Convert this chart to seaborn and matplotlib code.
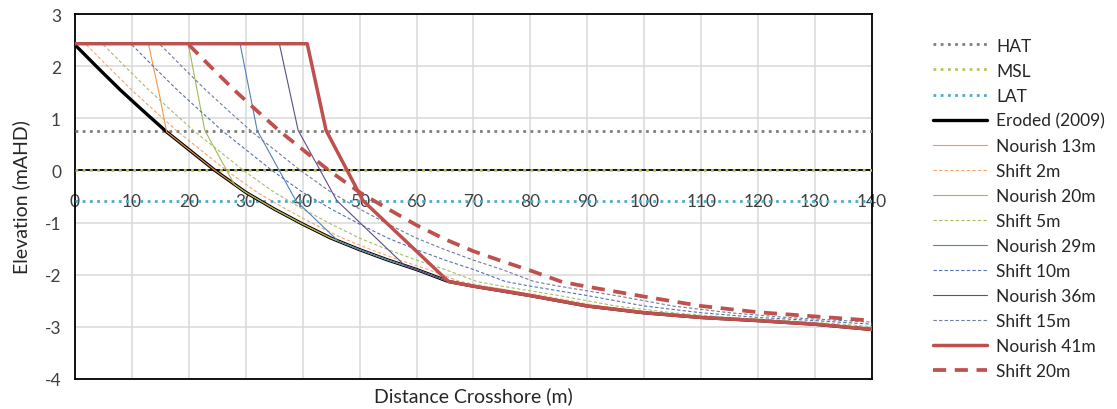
import matplotlib
matplotlib.use("Agg")
import matplotlib.pyplot as plt
import seaborn as sns

# Tide levels (mAHD)
tide_names = ["HAT", "MSL", "LAT"]
tide_levels = [0.75, 0.0, -0.58]
x_range = [0, 140]

# Eroded (2009) beach profile
eroded_x = [0, 4, 8, 12, 16.1, 20, 24.6, 30, 35, 40, 45, 50, 55, 60, 65.6, 70, 80, 90, 100, 110, 120, 130, 140]
eroded_y = [2.41, 1.97, 1.54, 1.14, 0.74, 0.40, 0.0, -0.42, -0.74, -1.03, -1.30, -1.52, -1.72, -1.90, -2.13, -2.22, -2.40, -2.60, -2.73, -2.82, -2.88, -2.95, -3.05]

# Nourished profiles (berm width in m)
nourish13_x = [0, 12.9, 14.9, 16.1, 20, 24.6, 30, 35, 40, 45, 50, 55, 60, 65.6, 70, 80, 90, 100, 110, 120, 130, 140]
nourish13_y = [2.43, 2.43, 1.42, 0.74, 0.40, 0.0, -0.42, -0.74, -1.03, -1.30, -1.52, -1.72, -1.90, -2.13, -2.22, -2.40, -2.60, -2.73, -2.82, -2.88, -2.95, -3.05]

nourish20_x = [0, 19.9, 22.8, 28.0, 30, 35, 40, 45, 50, 55, 60, 65.6, 70, 80, 90, 100, 110, 120, 130, 140]
nourish20_y = [2.43, 2.43, 0.77, -0.27, -0.42, -0.74, -1.03, -1.30, -1.52, -1.72, -1.90, -2.13, -2.22, -2.40, -2.60, -2.73, -2.82, -2.88, -2.95, -3.05]

nourish29_x = [0, 29.0, 32.0, 38.8, 46.3, 50, 55, 60, 65.6, 70, 80, 90, 100, 110, 120, 130, 140]
nourish29_y = [2.43, 2.43, 0.77, -0.58, -1.36, -1.52, -1.72, -1.90, -2.13, -2.22, -2.40, -2.60, -2.73, -2.82, -2.88, -2.95, -3.05]

nourish36_x = [0, 35.9, 39.2, 46.0, 58.0, 60, 65.6, 70, 80, 90, 100, 110, 120, 130, 140]
nourish36_y = [2.43, 2.43, 0.77, -0.58, -1.83, -1.90, -2.13, -2.22, -2.40, -2.60, -2.73, -2.82, -2.88, -2.95, -3.05]

nourish41_x = [0, 40.8, 44.1, 50.6, 65.6, 70, 80, 90, 100, 110, 120, 130, 140]
nourish41_y = [2.43, 2.43, 0.77, -0.58, -2.13, -2.22, -2.40, -2.60, -2.73, -2.82, -2.88, -2.95, -3.05]

# Shifted profiles (shoreline moved seaward)
shift2_x = [2, 6, 10, 14, 18.1, 22, 26.6, 32, 37, 42, 47, 52, 57, 62, 67.6, 72, 82, 92, 102, 112, 122, 132, 140]
shift2_y = [2.41, 1.97, 1.54, 1.14, 0.74, 0.40, 0.0, -0.42, -0.74, -1.03, -1.30, -1.52, -1.72, -1.90, -2.13, -2.22, -2.40, -2.60, -2.73, -2.82, -2.88, -2.95, -3.03]

shift5_x = [5, 9, 13, 17, 21.1, 25, 29.6, 35, 40, 45, 50, 55, 60, 65, 70.6, 75, 85, 95, 105, 115, 125, 135, 140]
shift5_y = [2.41, 1.97, 1.54, 1.14, 0.74, 0.40, 0.0, -0.42, -0.74, -1.03, -1.30, -1.52, -1.72, -1.90, -2.13, -2.22, -2.40, -2.60, -2.73, -2.82, -2.88, -2.95, -3.00]

shift10_x = [10, 14, 18, 22, 26.1, 30, 34.6, 40, 45, 50, 55, 60, 65, 70, 75.6, 80, 90, 100, 110, 120, 130, 140]
shift10_y = [2.41, 1.97, 1.54, 1.14, 0.74, 0.40, 0.0, -0.42, -0.74, -1.03, -1.30, -1.52, -1.72, -1.90, -2.13, -2.22, -2.40, -2.60, -2.73, -2.82, -2.88, -2.95]

shift15_x = [15, 19, 23, 27, 31.1, 35, 39.6, 45, 50, 55, 60, 65, 70, 75, 80.6, 85, 95, 105, 115, 125, 135, 140]
shift15_y = [2.41, 1.97, 1.54, 1.14, 0.74, 0.40, 0.0, -0.42, -0.74, -1.03, -1.30, -1.52, -1.72, -1.90, -2.13, -2.22, -2.40, -2.60, -2.73, -2.82, -2.88, -2.91]

shift20_x = [20, 24, 28, 32, 36.1, 40, 44.6, 50, 55, 60, 65, 70, 75, 80, 85.6, 90, 100, 110, 120, 130, 140]
shift20_y = [2.41, 1.97, 1.54, 1.14, 0.74, 0.40, 0.0, -0.42, -0.74, -1.05, -1.32, -1.55, -1.74, -1.92, -2.14, -2.23, -2.42, -2.60, -2.72, -2.80, -2.88]

x_ticks = list(range(0, 141, 10))
y_ticks = list(range(-4, 4))

sns.set_style("white")
plt.rcParams["font.family"] = ["Lato", "DejaVu Sans"]
plt.rcParams["axes.unicode_minus"] = False

fig = plt.figure(figsize=(11.17, 4.10), dpi=100)
ax = fig.add_axes([0.0671, 0.0732, 0.7136, 0.8902])

tide_colors = ["#7f7f7f", "#bcc25a", "#4bacc6"]
for name, level, col in zip(tide_names, tide_levels, tide_colors):
    sns.lineplot(x=x_range, y=[level, level], ax=ax, color=col, lw=2.0,
                 linestyle=(0, (1, 1.6)), label=name, sort=False, estimator=None, zorder=3)

sns.lineplot(x=eroded_x, y=eroded_y, ax=ax, color="black", lw=2.4,
             label="Eroded (2009)", sort=False, estimator=None, zorder=4)

series = [
    (nourish13_x, nourish13_y, "Nourish 13m", "#f79646", "-", 0.8),
    (shift2_x, shift2_y, "Shift 2m", "#f4a46c", (0, (3, 2)), 0.8),
    (nourish20_x, nourish20_y, "Nourish 20m", "#a3b75a", "-", 0.8),
    (shift5_x, shift5_y, "Shift 5m", "#a9bd68", (0, (3, 2)), 0.8),
    (nourish29_x, nourish29_y, "Nourish 29m", "#4f81bd", "-", 0.8),
    (shift10_x, shift10_y, "Shift 10m", "#5572b3", (0, (3, 2)), 0.8),
    (nourish36_x, nourish36_y, "Nourish 36m", "#5f4b8b", "-", 0.8),
    (shift15_x, shift15_y, "Shift 15m", "#717d9e", (0, (3, 2)), 0.8),
    (nourish41_x, nourish41_y, "Nourish 41m", "#c0504d", "-", 2.5),
    (shift20_x, shift20_y, "Shift 20m", "#c0504d", (0, (3.5, 2.3)), 2.7),
]
for xs, ys, name, col, ls, lw in series:
    sns.lineplot(x=xs, y=ys, ax=ax, color=col, lw=lw, linestyle=ls,
                 label=name, sort=False, estimator=None, zorder=5)

ax.set_xlim(0, 140)
ax.set_ylim(-4, 3)
ax.set_xticks(x_ticks)
ax.set_yticks(y_ticks)
ax.grid(True, color="#d9d9d9", lw=1.1, zorder=0)
ax.set_axisbelow(True)

# Horizontal axis crosses at zero elevation; frame kept around the plot area
for side in ["left", "top", "right", "bottom"]:
    ax.spines[side].set_visible(True)
    ax.spines[side].set_color("black")
    ax.spines[side].set_linewidth(1.3)
ax.spines["bottom"].set_position(("data", 0))
ax.spines["bottom"].set_zorder(2)
ax.plot([0, 1], [0, 0], transform=ax.transAxes, color="black", lw=1.3, clip_on=False)

ax.tick_params(axis="x", direction="in", length=5, width=1.3, pad=16.5, labelsize=12.5, colors="black")
ax.tick_params(axis="y", direction="out", length=5, width=1.3, pad=5, labelsize=12.5, colors="black")
for lab in ax.get_xticklabels() + ax.get_yticklabels():
    lab.set_color("#404040")

ax.set_xlabel("Distance Crosshore (m)", fontsize=14, color="#262626", labelpad=0)
ax.xaxis.set_label_coords(0.5, -0.02)
ax.set_ylabel("Elevation (mAHD)", fontsize=14, color="#262626", labelpad=10)

handles, labels = ax.get_legend_handles_labels()
ax.legend(handles, labels, loc="upper left", bbox_to_anchor=(0.835, 0.906),
          bbox_transform=fig.transFigure, frameon=False, fontsize=12.5,
          handlelength=3.1, handletextpad=0.55, labelspacing=0.52,
          borderpad=0, borderaxespad=0, labelcolor="#262626")

fig.savefig("out.png", dpi=100)
